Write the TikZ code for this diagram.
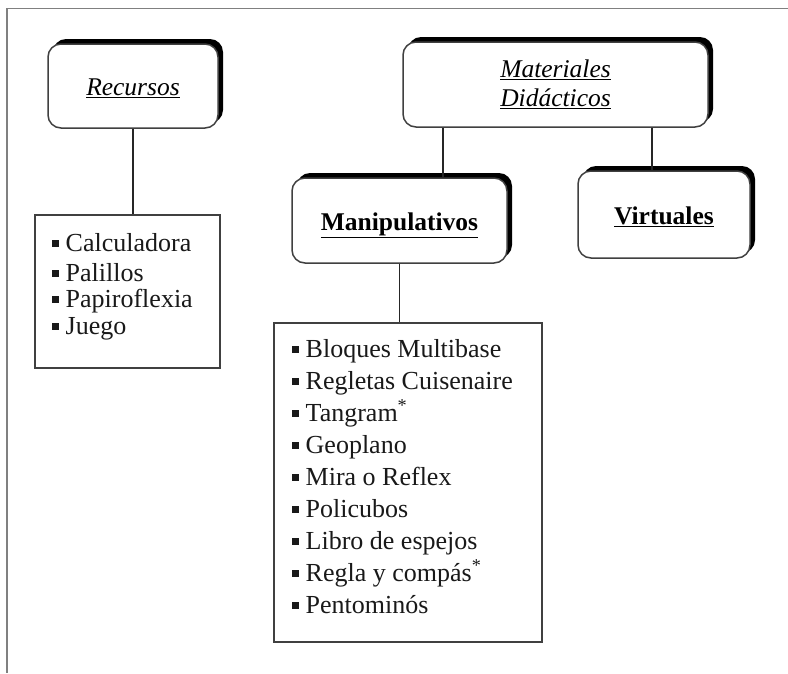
\documentclass[tikz,border=0pt]{standalone}
\usepackage{fontspec}
\setmainfont{Liberation Serif}
\usetikzlibrary{shadows}
\newcommand{\itembul}{\raisebox{4.5pt}{\rule{6.5pt}{6.5pt}}\hspace{7pt}}
\begin{document}
\begin{tikzpicture}[x=1pt,y=-1pt,
  every node/.style={font=\fontsize{25.5}{28}\selectfont, inner sep=0pt},
  titlebox/.style={draw=black!75, line width=1.5pt, rounded corners=13pt, fill=white,
    drop shadow={shadow xshift=5pt, shadow yshift=5pt, opacity=1, fill=black},
    align=center},
  onetitle/.style={titlebox, text height=25pt, text depth=6pt},
  listbox/.style={draw=black!75, line width=1.4pt, fill=white},
  item/.style={anchor=base west, text=black!90, font=\fontsize{26}{28}\selectfont},
  conn/.style={draw=black!85, line width=1.3pt},
  frame/.style={draw=black!50, line width=1.6pt}]
\useasboundingbox (0,0) rectangle (788,673);
\fill[white] (0,0) rectangle (788,673);
\draw[frame] (788,8.5) -- (7,8.5) -- (7,673);

% title boxes
\node[onetitle, minimum width=170pt, minimum height=84pt] (rec) at (133,86)
  {\textit{\underline{Recursos}}};
\node[titlebox, minimum width=305pt, minimum height=85pt] (mat) at (555.5,84.5)
  {\textit{\underline{Materiales}}\\[1pt]\textit{\underline{Didácticos}}};
\node[onetitle, minimum width=215pt, minimum height=85pt] (man) at (399.5,220.5)
  {\textbf{\underline{Manipulativos}}};
\node[onetitle, minimum width=172pt, minimum height=87pt] (vir) at (664,214.5)
  {\textbf{\underline{Virtuales}}};

% list boxes
\node[listbox, minimum width=185pt, minimum height=153pt] (l1) at (127.5,291.5) {};
\node[listbox, minimum width=268pt, minimum height=319pt] (l2) at (408,482.5) {};

% list 1 items
\node[item] (a1) at (52,251) {\itembul Calculadora};
\node[item] (a2) at (52,281) {\itembul Palillos};
\node[item] (a3) at (52,307) {\itembul Papiroflexia};
\node[item] (a4) at (52,334) {\itembul Juego};

% list 2 items
\node[item] (b1) at (292,357) {\itembul Bloques Multibase};
\node[item] (b2) at (292,389) {\itembul Regletas Cuisenaire};
\node[item] (b3) at (292,421) {\itembul Tangram\textsuperscript{*}};
\node[item] (b4) at (292,453) {\itembul Geoplano};
\node[item] (b5) at (292,485) {\itembul Mira o Reflex};
\node[item] (b6) at (292,517) {\itembul Policubos};
\node[item] (b7) at (292,549) {\itembul Libro de espejos};
\node[item] (b8) at (292,581) {\itembul Regla y compás\textsuperscript{*}};
\node[item] (b9) at (292,613) {\itembul Pentominós};

% connectors
\coordinate (c1) at (443,0);
\coordinate (c2) at (652,0);
\draw[conn] (rec.south) -- (rec.south |- l1.north);
\draw[conn] (c1 |- mat.south) -- (c1 |- man.north);
\draw[conn] (c2 |- mat.south) -- (c2 |- vir.north);
\draw[conn] (man.south) -- (man.south |- l2.north);
\end{tikzpicture}
\end{document}
